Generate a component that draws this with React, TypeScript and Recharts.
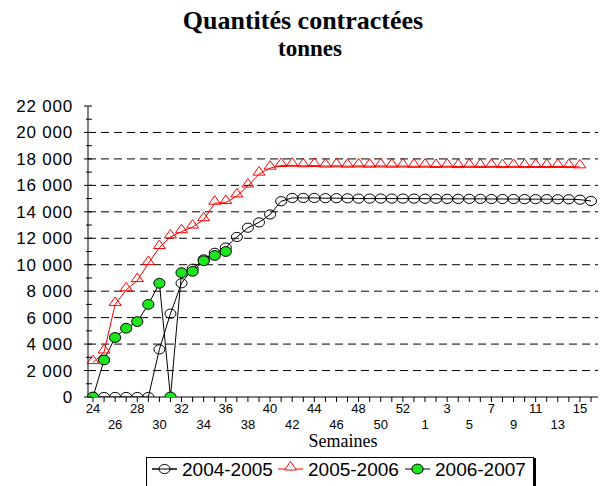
import React from 'react';
import { LineChart, Line, XAxis, YAxis, ReferenceLine } from 'recharts';

const weeks = [
  '24', '25', '26', '27', '28', '29', '30', '31', '32', '33', '34', '35', '36', '37', '38',
  '39', '40', '41', '42', '43', '44', '45', '46', '47', '48', '49', '50', '51', '52', '53',
  '1', '2', '3', '4', '5', '6', '7', '8', '9', '10', '11', '12', '13', '14', '15', '16',
];

const series0405 = [
  0, 0, 0, 0, 0, 0, 3600, 6300, 8600, 9700, 10400, 10900, 11300, 12100, 12800,
  13200, 13800, 14800, 15050, 15050, 15050, 15030, 15030, 15020, 15000, 15000, 15000, 15000, 15000, 15000,
  14990, 14990, 14980, 14980, 14980, 14980, 14970, 14970, 14970, 14960, 14960, 14960, 14950, 14950, 14920, 14820,
];

const series0506 = [
  2600, 3400, 7000, 8100, 8800, 10100, 11300, 12100, 12500, 12850, 13400, 14650, 14700, 15200, 15950,
  16850, 17300, 17500, 17520, 17480, 17500, 17460, 17480, 17450, 17470, 17450, 17470, 17450, 17460, 17440,
  17450, 17430, 17450, 17420, 17440, 17430, 17440, 17420, 17440, 17420, 17430, 17420, 17430, 17420, 17400,
];

const series0607 = [0, 2800, 4500, 5200, 5700, 7000, 8600, 0, 9400, 9500, 10300, 10700, 11000];

const seriesNames = ['2004-2005', '2005-2006', '2006-2007'];

const yTicks = [
  0, 1000, 2000, 3000, 4000, 5000, 6000, 7000, 8000, 9000, 10000, 11000,
  12000, 13000, 14000, 15000, 16000, 17000, 18000, 19000, 20000, 21000, 22000,
];

const gridValues = [2000, 4000, 6000, 8000, 10000, 12000, 14000, 16000, 18000, 20000];

const titleText = 'Quantités contractées';
const subtitleText = 'tonnes';
const xAxisTitle = 'Semaines';

const data = weeks.map((w, i) => ({
  week: w,
  a: i < series0405.length ? series0405[i] : null,
  b: i < series0506.length ? series0506[i] : null,
  c: i < series0607.length ? series0607[i] : null,
}));

const SANS = "'Liberation Sans', Arial, sans-serif";
const SERIF = "'Liberation Serif', 'Times New Roman', serif";

const fmt = (v: number) => String(v).replace(/\B(?=(\d{3})+(?!\d))/g, ' ');

const OpenCircle = (props: any) => {
  const { cx, cy, value, index } = props;
  if (cx == null || cy == null || value == null) return <g key={'a' + index} />;
  return <ellipse key={'a' + index} cx={cx} cy={cy} rx={5.5} ry={4.6} fill="none" stroke="#000" strokeWidth={1} />;
};

const OpenTriangle = (props: any) => {
  const { cx, cy, value, index } = props;
  if (cx == null || cy == null || value == null) return <g key={'b' + index} />;
  const d = `M${cx},${cy - 7.5} L${cx + 6},${cy + 1} L${cx - 6},${cy + 1} Z`;
  return <path key={'b' + index} d={d} fill="none" stroke="#ff0000" strokeWidth={1} />;
};

const GreenCircle = (props: any) => {
  const { cx, cy, value, index } = props;
  if (cx == null || cy == null || value == null) return <g key={'c' + index} />;
  return <ellipse key={'c' + index} cx={cx} cy={cy} rx={5.6} ry={4.9} fill="#1ee61e" stroke="#000" strokeWidth={1} />;
};

const XTick = (props: any) => {
  const { x, y, index, payload } = props;
  const i = index ?? payload?.index ?? 0;
  return (
    <g>
      <line x1={x} y1={y} x2={x} y2={y + 5} stroke="#000" strokeWidth={1} />
      {i % 2 === 0 && (
        <text x={x} y={y + (i % 4 === 0 ? 16 : 32)} textAnchor="middle" fontSize={13} fontFamily={SANS} fill="#000">
          {payload.value}
        </text>
      )}
    </g>
  );
};

const YTick = (props: any) => {
  const { x, y, payload } = props;
  const v = payload.value as number;
  const major = v % 2000 === 0;
  return (
    <g>
      <line x1={major ? x - 4 : x - 2} y1={y} x2={x + 4} y2={y} stroke="#000" strokeWidth={1} />
      {major && (
        <text x={x - 15} y={y + 6} textAnchor="end" fontSize={17} letterSpacing={0.8} fontFamily={SANS} fill="#000">
          {fmt(v)}
        </text>
      )}
    </g>
  );
};

const LegendMarker = ({ i, x, y }: { i: number; x: number; y: number }) => {
  const lineColor = i === 1 ? '#ff0000' : '#000';
  return (
    <g>
      <line x1={x} y1={y} x2={x + 25} y2={y} stroke={lineColor} strokeWidth={1} />
      {i === 0 && <ellipse cx={x + 12.5} cy={y} rx={5.5} ry={4.6} fill="#fff" stroke="#000" />}
      {i === 0 && <line x1={x} y1={y} x2={x + 25} y2={y} stroke="#000" strokeWidth={1} />}
      {i === 1 && <path d={`M${x + 12.5},${y - 7.5} L${x + 18.5},${y + 1} L${x + 6.5},${y + 1} Z`} fill="#fff" stroke="#ff0000" />}
      {i === 2 && <ellipse cx={x + 12.5} cy={y} rx={5.6} ry={4.9} fill="#1ee61e" stroke="#000" />}
    </g>
  );
};

export default function App() {
  const legendStarts = [152, 278, 405];
  return (
    <div style={{ position: 'absolute', left: 0, top: 0, width: 608, height: 486, background: '#fff' }}>
      <LineChart width={608} height={486} data={data} margin={{ top: 106, right: 10, bottom: 39, left: 0 }}>
        <XAxis
          dataKey="week"
          interval={0}
          tickSize={0}
          tickMargin={0}
          tickLine={false}
          tick={<XTick />}
          padding={{ left: 5, right: 7 }}
          axisLine={{ stroke: '#000', strokeWidth: 1 }}
          height={50}
        />
        <YAxis
          type="number"
          domain={[0, 22000]}
          ticks={yTicks}
          interval={0}
          tickSize={0}
          tickMargin={0}
          tickLine={false}
          tick={<YTick />}
          axisLine={{ stroke: '#000', strokeWidth: 1 }}
          width={88}
          allowDataOverflow
        />
        {gridValues.map((v) => (
          <ReferenceLine key={v} y={v} stroke="#000" strokeWidth={1} strokeDasharray="8 5" ifOverflow="extendDomain" />
        ))}
        <Line
          type="linear"
          dataKey="a"
          name={seriesNames[0]}
          stroke="#000"
          strokeWidth={1}
          dot={OpenCircle}
          activeDot={false}
          isAnimationActive={false}
        />
        <Line
          type="linear"
          dataKey="b"
          name={seriesNames[1]}
          stroke="#ff0000"
          strokeWidth={1}
          dot={OpenTriangle}
          activeDot={false}
          isAnimationActive={false}
        />
        <Line
          type="linear"
          dataKey="c"
          name={seriesNames[2]}
          stroke="#000"
          strokeWidth={1}
          dot={GreenCircle}
          activeDot={false}
          isAnimationActive={false}
        />
      </LineChart>
      <svg width={608} height={486} style={{ position: 'absolute', left: 0, top: 0, pointerEvents: 'none' }}>
        <text x={303} y={29} textAnchor="middle" fontFamily="Liberation Serif" fontWeight={700} fontSize={26} fill="#000">
          {titleText}
        </text>
        <text x={310} y={56} textAnchor="middle" fontFamily="Liberation Serif" fontWeight={700} fontSize={23} fill="#000">
          {subtitleText}
        </text>
        <text x={343} y={447} textAnchor="middle" fontFamily={SERIF} fontSize={18} fill="#000">
          {xAxisTitle}
        </text>
        <rect x={146.5} y={457.5} width={387} height={30} fill="#fff" stroke="#000" strokeWidth={1} />
        <line x1={534.5} y1={458} x2={534.5} y2={486} stroke="#000" strokeWidth={3} />
        {seriesNames.map((name, i) => (
          <g key={name}>
            <LegendMarker i={i} x={legendStarts[i]} y={469} />
            <text x={legendStarts[i] + 30} y={476} fontFamily={SANS} fontSize={19} fill="#000">
              {name}
            </text>
          </g>
        ))}
      </svg>
    </div>
  );
}
